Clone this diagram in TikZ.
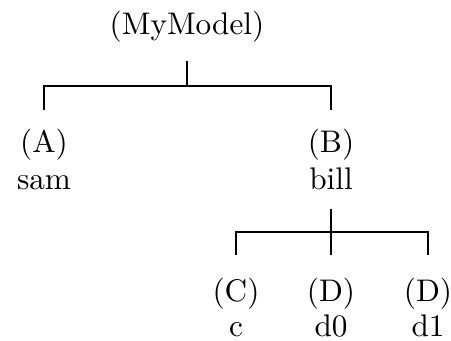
\documentclass[tikz,border=0pt]{standalone}
\usepackage{tikz}
\usetikzlibrary{positioning,calc}

\begin{document}
\begin{tikzpicture}[
  x=0.32pt, y=-0.32pt,
  part/.style={
    align=center, inner sep=0pt, outer xsep=0pt, outer ysep=6pt,
    font=\normalsize
  },
  leaf/.style={part, outer ysep=7.5pt},
  link/.style={draw=black, line width=0.6pt}
]
  \useasboundingbox (0,0) rectangle (451,341);
  \node[part, anchor=south] (top) at (187,61) {(MyModel)};
  \node[part, anchor=north] (a) at (44,110)  {(A)\\sam};
  \node[part, anchor=north] (b) at (331,110) {(B)\\bill};
  \draw[link] (top.south) -- ++(0,25) coordinate (topj);
  \draw[link] (a.north) |- (topj) -| (b.north);
  \node[leaf, anchor=north] (c)  at (236,255) {(C)\\[-1pt]c};
  \node[leaf, anchor=north] (d0) at (331,255) {(D)\\[-1pt]d0};
  \node[leaf, anchor=north] (d1) at (428,255) {(D)\\[-1pt]d1};
  \draw[link] (b.south) -- (d0.north) coordinate[pos=0.5] (bj);
  \draw[link] (c.north) |- (bj) -| (d1.north);
\end{tikzpicture}
\end{document}
